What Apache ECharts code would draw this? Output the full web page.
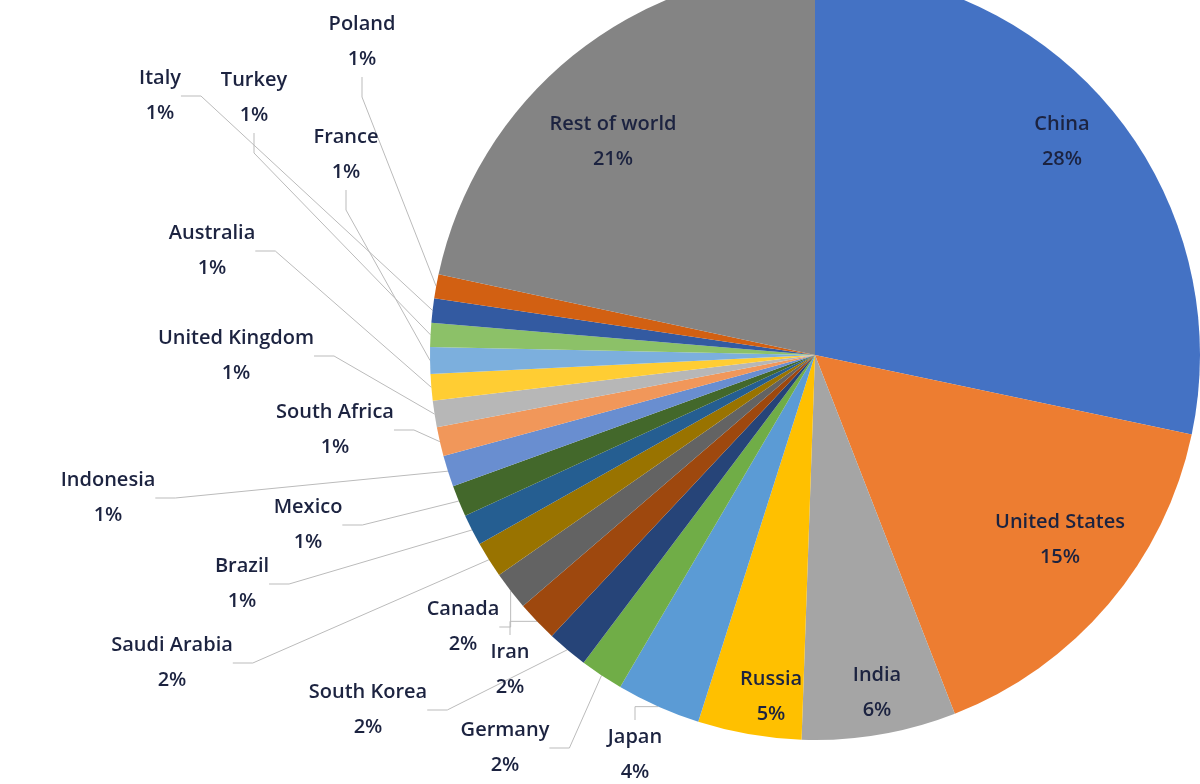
<!DOCTYPE html>
<html><head><meta charset="utf-8">
<script src="https://cdn.jsdelivr.net/npm/echarts@6/dist/echarts.min.js"></script>
<style>html,body{margin:0;padding:0;background:#fff}#c{width:1200px;height:784px}</style>
</head><body><div id="c"></div>
<script>
const countries = ["China","United States","India","Russia","Japan","Germany","South Korea","Iran","Canada","Saudi Arabia","Brazil","Mexico","Indonesia","South Africa","United Kingdom","Australia","France","Turkey","Italy","Poland","Rest of world"];
const shares = [28,15.6,6.4,4.3,3.5,1.8,1.7,1.7,1.6,1.5,1.3,1.3,1.3,1.2,1.1,1.1,1.1,1.0,1.0,1.0,21.4];
const pctLabels = ["28%","15%","6%","5%","4%","2%","2%","2%","2%","2%","1%","1%","1%","1%","1%","1%","1%","1%","1%","1%","21%"];
const colors = ["#4472C4","#ED7D31","#A5A5A5","#FFC000","#5B9BD5","#70AD47","#264478","#9E480E","#636363","#997300","#255E91","#43682B","#698ED0","#F1975A","#B7B7B7","#FFCD33","#7CAFDD","#8CC168","#335AA1","#D26012","#848484"];
const labelPos = [[1062,142],[1060,540],[877,693],[771,697],[635,755],[505,748],[368,710],[510,670],[463,627],[172,663],[242,584],[308,525],[108,498],[335,430],[236,356],[212,251],[346,155],[254,98],[160,96],[362,42],[613,142]];
const inside = [0,1,2,3,20];
const chart = echarts.init(document.getElementById('c'));
chart.setOption({
  animation:false,
  series:[{
    type:'pie', center:[815,355], radius:385, startAngle:90, clockwise:true,
    data: countries.map((n,i)=>({name:n,value:shares[i],itemStyle:{color:colors[i]},
      labelLine:{show:inside.indexOf(i)<0}})),
    itemStyle:{borderWidth:0},
    label:{position:'outside',formatter:p=>p.name+'\n'+pctLabels[p.dataIndex],overflow:'none',
      fontFamily:'Open Sans',fontSize:20,fontWeight:600,color:'#1c2340',lineHeight:35,align:'center'},
    labelLine:{length:20,length2:20,lineStyle:{color:'#bbbbbb',width:1}},
    labelLayout:p=>({x:labelPos[p.dataIndex][0],y:labelPos[p.dataIndex][1],align:'center',verticalAlign:'middle'})
  }]
});
</script></body></html>
